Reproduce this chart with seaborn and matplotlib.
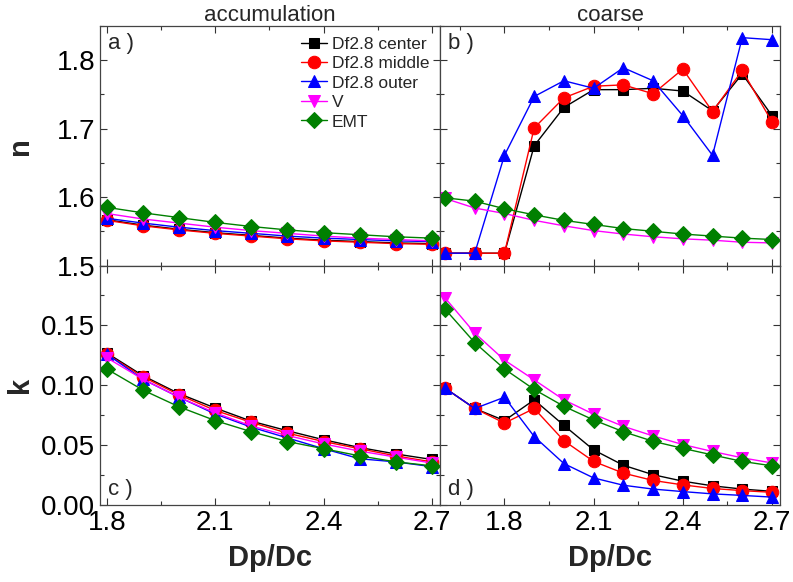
import seaborn as sns
import matplotlib.pyplot as plt
from matplotlib.ticker import MultipleLocator

# x values (Dp/Dc)
x_acc = [1.8, 1.9, 2.0, 2.1, 2.2, 2.3, 2.4, 2.5, 2.6, 2.7]
x_coa = [1.6, 1.7, 1.8, 1.9, 2.0, 2.1, 2.2, 2.3, 2.4, 2.5, 2.6, 2.7]

# n, accumulation mode
n_acc_center = [1.567, 1.559, 1.553, 1.548, 1.544, 1.540, 1.537, 1.535, 1.533, 1.532]
n_acc_middle = [1.566, 1.558, 1.552, 1.547, 1.543, 1.539, 1.536, 1.534, 1.532, 1.531]
n_acc_outer = [1.569, 1.562, 1.556, 1.551, 1.547, 1.543, 1.540, 1.538, 1.536, 1.535]
n_acc_v = [1.576, 1.568, 1.562, 1.556, 1.551, 1.547, 1.543, 1.540, 1.538, 1.536]
n_acc_emt = [1.585, 1.577, 1.570, 1.563, 1.557, 1.552, 1.548, 1.545, 1.542, 1.540]

# n, coarse mode
n_coa_center = [1.518, 1.518, 1.518, 1.675, 1.731, 1.757, 1.757, 1.759, 1.755, 1.726, 1.780, 1.719]
n_coa_middle = [1.518, 1.518, 1.518, 1.701, 1.745, 1.762, 1.764, 1.751, 1.787, 1.725, 1.785, 1.710]
n_coa_outer = [1.518, 1.518, 1.661, 1.747, 1.770, 1.759, 1.789, 1.770, 1.719, 1.661, 1.833, 1.830]
n_coa_v = [1.598, 1.584, 1.576, 1.566, 1.558, 1.551, 1.546, 1.542, 1.539, 1.537, 1.534, 1.533]
n_coa_emt = [1.599, 1.594, 1.583, 1.574, 1.566, 1.560, 1.554, 1.550, 1.546, 1.543, 1.540, 1.538]

# k, accumulation mode
k_acc_center = [0.127, 0.108, 0.093, 0.081, 0.070, 0.062, 0.0545, 0.048, 0.0426, 0.038]
k_acc_middle = [0.126, 0.107, 0.092, 0.079, 0.069, 0.060, 0.053, 0.047, 0.041, 0.036]
k_acc_outer = [0.126, 0.105, 0.090, 0.076, 0.065, 0.056, 0.047, 0.0386, 0.036, 0.032]
k_acc_v = [0.123, 0.105, 0.090, 0.077, 0.066, 0.058, 0.051, 0.045, 0.040, 0.035]
k_acc_emt = [0.1136, 0.096, 0.082, 0.0705, 0.0612, 0.053, 0.047, 0.041, 0.036, 0.0327]

# k, coarse mode
k_coa_center = [0.0976, 0.0806, 0.0705, 0.0878, 0.0665, 0.046, 0.0332, 0.0253, 0.0199, 0.016, 0.0133, 0.0114]
k_coa_middle = [0.0976, 0.0806, 0.0684, 0.0806, 0.0537, 0.0364, 0.0266, 0.0205, 0.0168, 0.0138, 0.012, 0.0106]
k_coa_outer = [0.0976, 0.0806, 0.090, 0.0572, 0.0346, 0.0226, 0.0165, 0.0133, 0.0112, 0.0093, 0.008, 0.0066]
k_coa_v = [0.173, 0.1436, 0.121, 0.1045, 0.0878, 0.0758, 0.0657, 0.0577, 0.0505, 0.0447, 0.0394, 0.0351]
k_coa_emt = [0.1636, 0.1356, 0.1136, 0.0965, 0.0824, 0.0710, 0.0612, 0.0532, 0.0473, 0.0418, 0.0364, 0.0327]

labels = ["Df2.8 center", "Df2.8 middle", "Df2.8 outer", "V", "EMT"]
colors = ["black", "red", "blue", "magenta", "green"]
markers = ["s", "o", "^", "v", "D"]
msizes = [7.5, 9, 9, 9, 8]

sns.set_style("ticks")
plt.rcParams["font.family"] = ["Liberation Sans", "DejaVu Sans"]
plt.rcParams["xtick.direction"] = "in"
plt.rcParams["ytick.direction"] = "in"

fig, axes = plt.subplots(2, 2, figsize=(7.93, 5.82), dpi=100, sharey="row")
fig.subplots_adjust(left=0.126, right=0.9836, top=0.9553, bottom=0.1323,
                    hspace=0, wspace=0)

panels = [
    (axes[0, 0], x_acc, [n_acc_center, n_acc_middle, n_acc_outer, n_acc_v, n_acc_emt], "a )", "top"),
    (axes[0, 1], x_coa, [n_coa_center, n_coa_middle, n_coa_outer, n_coa_v, n_coa_emt], "b )", "top"),
    (axes[1, 0], x_acc, [k_acc_center, k_acc_middle, k_acc_outer, k_acc_v, k_acc_emt], "c )", "bottom"),
    (axes[1, 1], x_coa, [k_coa_center, k_coa_middle, k_coa_outer, k_coa_v, k_coa_emt], "d )", "bottom"),
]

for ax, xs, series, tag, where in panels:
    for ys, lab, c, m, ms in zip(series, labels, colors, markers, msizes):
        sns.lineplot(x=xs, y=ys, ax=ax, color=c, marker=m, markersize=ms,
                     markeredgecolor=c, linewidth=1, label=lab)
    if ax.get_legend() is not None:
        ax.get_legend().remove()
    if where == "top":
        ax.text(0.025, 0.97, tag, transform=ax.transAxes, ha="left", va="top", fontsize=16)
    else:
        ax.text(0.025, 0.02, tag, transform=ax.transAxes, ha="left", va="bottom", fontsize=16)
    ax.xaxis.set_major_locator(MultipleLocator(0.3))
    ax.xaxis.set_minor_locator(MultipleLocator(0.15))
    ax.tick_params(which="both", top=True, right=True, colors="#333333",
                   labelcolor="black", labelsize=20, width=0.8)
    ax.tick_params(which="major", length=5)
    ax.tick_params(which="minor", length=3)
    for sp in ax.spines.values():
        sp.set_color("#444444")
        sp.set_linewidth(0.9)
    ax.set_xlabel("")
    ax.set_ylabel("")

axes[0, 0].set_xlim(1.781, 2.722)
axes[1, 0].set_xlim(1.781, 2.722)
axes[0, 1].set_xlim(1.583, 2.727)
axes[1, 1].set_xlim(1.583, 2.727)

axes[0, 0].set_ylim(1.5, 1.85)
axes[0, 0].yaxis.set_major_locator(MultipleLocator(0.1))
axes[0, 0].yaxis.set_minor_locator(MultipleLocator(0.05))
axes[1, 0].set_ylim(0, 0.2)
axes[1, 0].set_yticks([0.0, 0.05, 0.10, 0.15])
axes[1, 0].set_yticklabels(["0.00", "0.05", "0.10", "0.15"])
axes[1, 0].yaxis.set_minor_locator(MultipleLocator(0.025))

for ax in axes[0]:
    ax.tick_params(labelbottom=False)
for ax in axes[:, 1]:
    ax.tick_params(labelleft=False)

axes[0, 0].set_title("accumulation", fontsize=16, pad=3)
axes[0, 1].set_title("coarse", fontsize=16, pad=3)

lab_font = dict(fontsize=21, fontweight="bold", family=["Liberation Sans Narrow", "Liberation Sans"])
axes[0, 0].set_ylabel("n", **lab_font)
axes[1, 0].set_ylabel("k", **lab_font)
axes[0, 0].yaxis.set_label_coords(-0.195, 0.5)
axes[1, 0].yaxis.set_label_coords(-0.195, 0.5)
axes[1, 0].set_xlabel("Dp/Dc", **lab_font, labelpad=6)
axes[1, 1].set_xlabel("Dp/Dc", **lab_font, labelpad=6)

h, l = axes[0, 0].get_legend_handles_labels()
axes[0, 0].legend(h, l, loc="upper right", frameon=False, fontsize=12.5,
                  handlelength=1.5, handletextpad=0.3, labelspacing=0.25,
                  borderaxespad=0.2, bbox_to_anchor=(1.0, 1.0))

fig.savefig("out.png", dpi=100)
